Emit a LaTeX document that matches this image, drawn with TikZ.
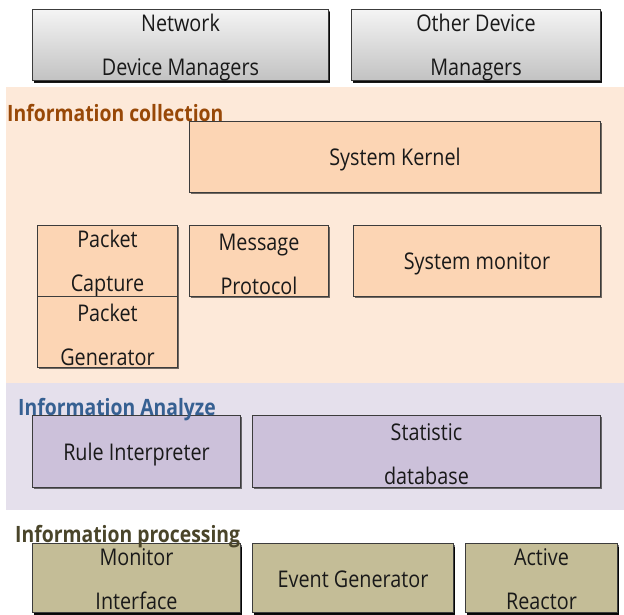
\documentclass[tikz,border=0pt]{standalone}
\usepackage{fontspec}
\setmainfont{Open Sans}[FakeStretch=0.86]
\usetikzlibrary{shadows}

\definecolor{peachpanel}{HTML}{FDE9D9}
\definecolor{peachbox}{HTML}{FCD5B4}
\definecolor{lavpanel}{HTML}{E5E0EC}
\definecolor{lavbox}{HTML}{CCC1DA}
\definecolor{olivebox}{HTML}{C4BD97}
\definecolor{grayhi}{HTML}{F4F4F4}
\definecolor{graylo}{HTML}{C2C2C2}
\definecolor{edge}{HTML}{3C3C3C}
\definecolor{collcol}{HTML}{984807}
\definecolor{anacol}{HTML}{366092}
\definecolor{proccol}{HTML}{4A452A}

\tikzset{
  boxtext/.style={align=center, text=black!90, inner sep=0pt, yshift=-3pt,
    font=\fontsize{23}{44}\selectfont},
  lowtext/.style={boxtext, yshift=2pt},
  blk/.style={draw=edge, line width=1pt, inner sep=0pt, anchor=north west,
    drop shadow={shadow xshift=1.2pt, shadow yshift=-1.5pt, fill=black, opacity=0.55}},
  mgrbox/.style={blk, top color=grayhi, bottom color=graylo,
    drop shadow={shadow xshift=1pt, shadow yshift=-2.5pt, fill=black, opacity=0.9}},
  collbox/.style={blk, fill=peachbox},
  anabox/.style={blk, fill=lavbox},
  procbox/.style={blk, fill=olivebox,
    drop shadow={shadow xshift=1pt, shadow yshift=-3pt, fill=black, opacity=0.95}},
  panel/.style={draw=none, inner sep=0pt, anchor=north west},
  layerlabel/.style={anchor=base west, inner sep=0pt,
    font=\fontsize{22.5}{26}\selectfont\bfseries}
}

\begin{document}
\begin{tikzpicture}[x=1pt, y=-1pt]
\useasboundingbox (0,0) rectangle (624,615);
\fill[white] (0,0) rectangle (624,615);

% layer panels
\node[panel, fill=peachpanel, minimum width=618pt, minimum height=296pt] (collpanel) at (6,87) {};
\node[panel, fill=lavpanel, minimum width=618pt, minimum height=127pt] (anapanel) at (6,383) {};

% device managers
\node[mgrbox, minimum width=296pt, minimum height=71pt] (netmgr) at (32,9) {};
\node[boxtext] (netmgr-t) at (netmgr.center) {Network\\Device Managers};
\node[mgrbox, minimum width=249pt, minimum height=71pt] (othermgr) at (351,9) {};
\node[boxtext] (othermgr-t) at (othermgr.center) {Other Device\\Managers};

% information collection
\node[collbox, minimum width=411pt, minimum height=71pt] (kernel) at (189,121) {};
\node[boxtext] (kernel-t) at (kernel.center) {System Kernel};
\node[collbox, minimum width=140pt, minimum height=71pt] (capture) at (37,225) {};
\node[boxtext] (capture-t) at (capture.center) {Packet\\Capture};
\node[collbox, minimum width=140pt, minimum height=71pt] (pktgen) at (37,296) {};
\node[boxtext] (pktgen-t) at (pktgen.center) {Packet\\Generator};
\node[collbox, minimum width=139pt, minimum height=71pt] (msgproto) at (189,225) {};
\node[boxtext] (msgproto-t) at (msgproto.center) {Message\\Protocol};
\node[collbox, minimum width=247pt, minimum height=71pt] (sysmon) at (353,225) {};
\node[boxtext] (sysmon-t) at (sysmon.center) {System monitor};

% information analyze
\node[anabox, minimum width=208pt, minimum height=72pt] (rules) at (32,415) {};
\node[boxtext] (rules-t) at (rules.center) {Rule Interpreter};
\node[anabox, minimum width=348pt, minimum height=72pt] (statdb) at (252,415) {};
\node[boxtext] (statdb-t) at (statdb.center) {Statistic\\database};

% information processing
\node[procbox, minimum width=208pt, minimum height=69pt] (monif) at (32,543) {};
\node[lowtext] (monif-t) at (monif.center) {Monitor\\Interface};
\node[procbox, minimum width=201pt, minimum height=69pt] (eventgen) at (252,543) {};
\node[lowtext] (eventgen-t) at (eventgen.center) {Event Generator};
\node[procbox, minimum width=152pt, minimum height=69pt] (reactor) at (465,543) {};
\node[lowtext] (reactor-t) at (reactor.center) {Active\\Reactor};

% layer titles
\node[layerlabel, text=collcol] (colltitle) at (7,122) {Information collection};
\node[layerlabel, text=anacol] (anatitle) at (18,415) {Information Analyze};
\node[layerlabel, text=proccol] (proctitle) at (15,542) {Information processing};
\end{tikzpicture}
\end{document}
